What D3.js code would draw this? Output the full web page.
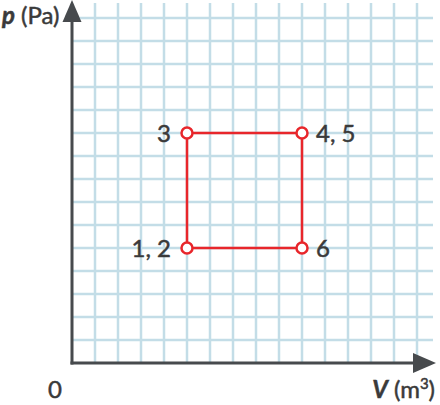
<!DOCTYPE html>
<html>
<head>
<meta charset="utf-8">
<script src="https://cdn.jsdelivr.net/npm/d3@7"></script>
<style>
  html, body { margin: 0; padding: 0; background: #fff; }
  svg { display: block; font-family: Lato, "Open Sans", sans-serif; }
  text { stroke: #3a3a3a; stroke-width: 0.5px; }
</style>
</head>
<body>
<svg width="440" height="405"></svg>
<script>
// grid positions (units of V and p)
var gridTicks = [1, 2, 3, 4, 5, 6, 7, 8, 9, 10, 11, 12, 13, 14, 15];

// states of the cycle
var stateLabels = ["1, 2", "3", "4, 5", "6"];
var volumes = [5, 5, 10, 10];
var pressures = [5, 10, 10, 5];
var labelSide = ["left", "left", "right", "right"];

var svg = d3.select("svg");
var axisColor = "#474a4d";
var gridColor = "#c3dde7";
var textColor = "#3a3a3a";
var red = "#e8262b";

var x = d3.scaleLinear().domain([0, 15]).range([72, 417]);
var y = d3.scaleLinear().domain([0, 15]).range([363, 18]);

// grid
var grid = svg.append("g");
grid.selectAll(".vline")
  .data(gridTicks)
  .enter().append("line")
    .attr("x1", function(d) { return x(d); })
    .attr("x2", function(d) { return x(d); })
    .attr("y1", y(0))
    .attr("y2", y(15) - 15)
    .attr("stroke", gridColor)
    .attr("stroke-width", 2.5);
grid.selectAll(".hline")
  .data(gridTicks)
  .enter().append("line")
    .attr("y1", function(d) { return y(d); })
    .attr("y2", function(d) { return y(d); })
    .attr("x1", x(0))
    .attr("x2", x(15) + 16)
    .attr("stroke", gridColor)
    .attr("stroke-width", 2.5);

// axes
svg.append("path")
  .attr("d", "M" + x(0) + "," + (y(0) + 1.5) + "V" + 15)
  .attr("stroke", axisColor)
  .attr("stroke-width", 3)
  .attr("fill", "none");
svg.append("path")
  .attr("d", "M" + (x(0) - 1.5) + "," + y(0) + "H" + 420)
  .attr("stroke", axisColor)
  .attr("stroke-width", 3)
  .attr("fill", "none");
// arrow heads
svg.append("path")
  .attr("d", "M" + x(0) + ",0L" + (x(0) + 9.5) + ",22L" + (x(0) - 9.5) + ",22Z")
  .attr("fill", axisColor);
svg.append("path")
  .attr("d", "M436," + y(0) + "L413," + (y(0) - 10) + "L413," + (y(0) + 10) + "Z")
  .attr("fill", axisColor);

// axis labels
var pLabel = svg.append("text")
  .attr("x", 2)
  .attr("y", 24)
  .attr("font-size", 24)
  .attr("fill", textColor);
pLabel.append("tspan").attr("font-style", "italic").attr("font-weight", "bold").text("p");
pLabel.append("tspan").text(" (Pa)");

var vLabel = svg.append("text")
  .attr("x", 435)
  .attr("y", 398)
  .attr("text-anchor", "end")
  .attr("font-size", 24)
  .attr("fill", textColor);
vLabel.append("tspan").attr("font-style", "italic").attr("font-weight", "bold").text("V");
vLabel.append("tspan").text(" (m");
vLabel.append("tspan").attr("font-size", 15).attr("dy", -9).text("3");
vLabel.append("tspan").attr("dy", 9).text(")");

svg.append("text")
  .attr("x", 55)
  .attr("y", 398)
  .attr("text-anchor", "middle")
  .attr("font-size", 24)
  .attr("fill", textColor)
  .text("0");

// the cycle
var states = stateLabels.map(function(l, i) {
  return { label: l, v: volumes[i], p: pressures[i], side: labelSide[i] };
});

var line = d3.line()
  .x(function(d) { return x(d.v); })
  .y(function(d) { return y(d.p); })
  .curve(d3.curveLinearClosed);

svg.append("path")
  .datum(states)
  .attr("d", line)
  .attr("fill", "none")
  .attr("stroke", red)
  .attr("stroke-width", 2.5);

svg.selectAll(".pt")
  .data(states)
  .enter().append("circle")
    .attr("cx", function(d) { return x(d.v); })
    .attr("cy", function(d) { return y(d.p); })
    .attr("r", 5.5)
    .attr("fill", "#fff")
    .attr("stroke", red)
    .attr("stroke-width", 2.5);

svg.selectAll(".lbl")
  .data(states)
  .enter().append("text")
    .attr("x", function(d) { return x(d.v) + (d.side === "left" ? -16 : 14); })
    .attr("y", function(d) { return y(d.p); })
    .attr("dy", "0.36em")
    .attr("text-anchor", function(d) { return d.side === "left" ? "end" : "start"; })
    .attr("font-size", 24)
    .attr("fill", textColor)
    .text(function(d) { return d.label; });
</script>
</body>
</html>
